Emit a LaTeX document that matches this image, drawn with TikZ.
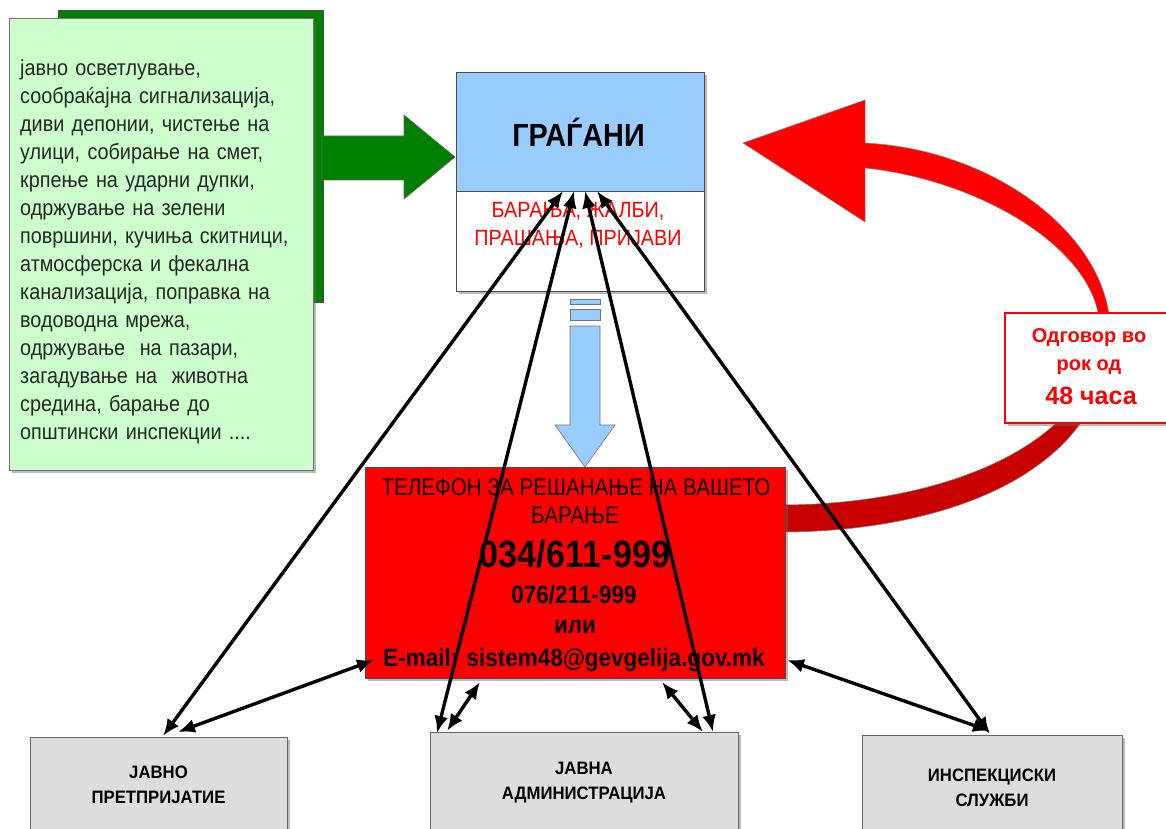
\documentclass[tikz,border=0pt]{standalone}
\usepackage{fontspec}
\setmainfont{Liberation Sans}
\newfontfamily\fgreen[FakeStretch=0.9]{Liberation Sans}
\newfontfamily\fnine[FakeStretch=0.9]{Liberation Sans}
\newfontfamily\feight[FakeStretch=0.86]{Liberation Sans}
\newfontfamily\fsmall[FakeStretch=0.93]{Liberation Sans}
\usetikzlibrary{arrows.meta,shadows}
\definecolor{dkgreen}{RGB}{0,128,0}
\definecolor{ltgreen}{RGB}{204,255,204}
\definecolor{ltblue}{RGB}{153,204,255}
\definecolor{myred}{RGB}{255,0,0}
\definecolor{dkred}{RGB}{200,0,0}
\definecolor{ltgray}{RGB}{221,221,221}
\begin{document}
\begin{tikzpicture}[x=1pt,y=-1pt,
  box/.style={draw=black!70, line width=0.8pt, inner sep=0pt, outer sep=0pt},
  shad/.style={drop shadow={shadow xshift=3pt, shadow yshift=-3pt, opacity=0.45, fill=black!60}},
  link/.style={line width=3.4pt, {Latex[length=17pt,width=14pt]}-{Latex[length=17pt,width=14pt]}},
  lbl/.style={inner sep=0pt, anchor=base},
]
\useasboundingbox (0,0) rectangle (1166,829);
\fill[white] (0,0) rectangle (1166,829);
\clip (0,0) rectangle (1166,829);

% green back panel and arrow
\node[box, fill=dkgreen, minimum width=265pt, minimum height=292pt, anchor=north west] (gback) at (58,10) {};
\draw[fill=dkgreen, draw=black!60, line width=0.6pt] (322,136) -- (404,136) -- (404,115) -- (455,157) -- (404,199) -- (404,180) -- (322,180) -- cycle;

% light green list box
\node[box, fill=ltgreen, draw=black!55, shad, minimum width=304pt, minimum height=452pt, anchor=north west] (gbox) at (9,18) {};
\node[inner sep=0pt, anchor=north west, text width=295pt, align=left, text=black!85,
  font={\fgreen\fontsize{22}{28}\selectfont}] (gtext) at (20,55.4) {\strut јавно осветлување,\\
сообраќајна сигнализација,\\
диви депонии, чистење на\\
улици, собирање на смет,\\
крпење на ударни дупки,\\
одржување на зелени\\
површини, кучиња скитници,\\
атмосферска и фекална\\
канализација, поправка на\\
водоводна мрежа,\\
одржување \ на пазари,\\
загадување на \ животна\\
средина, барање до\\
општински инспекции ....};

% citizens box
\node[box, fill=ltblue, shad, minimum width=248pt, minimum height=119pt, anchor=north west] (grad) at (456,72) {};
\node[lbl, font={\fnine\bfseries\fontsize{32}{32}\selectfont}] (gradt) at (578.5,147) {ГРАЃАНИ};
\node[box, fill=white, shad, minimum width=248pt, minimum height=100pt, anchor=north west] (req) at (456,191) {};
\node[lbl, text=myred, font={\fnine\fontsize{22}{22}\selectfont}] (req1) at (578,217) {БАРАЊА, ЖАЛБИ,};
\node[lbl, text=myred, font={\fnine\fontsize{22}{22}\selectfont}] (req2) at (578,245) {ПРАШАЊА, ПРИЈАВИ};

% blue down arrow
\begin{scope}[fill=ltblue, draw=black!55, line width=0.6pt]
\filldraw (570,299) rectangle (600,304);
\filldraw (570,309) rectangle (600,320);
\filldraw (570,326) -- (600,326) -- (600,425) -- (615,425) -- (585,467) -- (555,425) -- (570,425) -- cycle;
\end{scope}

% red curved arrow
\path[save path=\redarc] (780,532) .. controls (950,532) and (1110,470) .. (1110,330)
   .. controls (1110,240) and (1000,150) .. (865,143)
   -- (865,100) -- (743,143) -- (865,222) -- (865,168)
   .. controls (980,180) and (1100,250) .. (1100,330)
   .. controls (1100,440) and (950,505) .. (780,505) -- cycle;
\fill[black!50, opacity=0.5, shift={(2.5,2.5)}, use path=\redarc];
\fill[myred, use path=\redarc];
\begin{scope}
\clip (700,380) rectangle (1166,560);
\fill[dkred, use path=\redarc];
\end{scope}
\draw[black!45, line width=0.5pt, use path=\redarc];

% response label
\node[box, draw=myred, line width=1.2pt, fill=white, shad, minimum width=180pt, minimum height=110pt, anchor=north west] (resp) at (1005,313) {};
\node[lbl, text=myred, font={\bfseries\fontsize{20}{20}\selectfont}] (resp1) at (1089,342.5) {Одговор во};
\node[lbl, text=myred, font={\bfseries\fontsize{20}{20}\selectfont}] (resp2) at (1089,370) {рок од};
\node[lbl, text=myred, font={\bfseries\fontsize{25}{25}\selectfont}] (resp3) at (1091,404) {48 часа};

% phone box
\node[box, fill=myred, shad, minimum width=420pt, minimum height=211pt, anchor=north west] (phone) at (365,467) {};
\node[lbl, font={\feight\fontsize{24}{24}\selectfont}] (ph1) at (576,495) {ТЕЛЕФОН ЗА РЕШАНАЊЕ НА ВАШЕТО};
\node[lbl, font={\feight\fontsize{24}{24}\selectfont}] (ph2) at (575,523) {БАРАЊЕ};
\node[lbl, font={\fnine\bfseries\fontsize{38}{38}\selectfont}] (ph3) at (575,567) {034/611-999};
\node[lbl, font={\fnine\bfseries\fontsize{25}{25}\selectfont}] (ph4) at (574,603) {076/211-999};
\node[lbl, font={\fnine\bfseries\fontsize{25}{25}\selectfont}] (ph5) at (575,633) {или};
\node[lbl, font={\fnine\bfseries\fontsize{25}{25}\selectfont}] (ph6) at (574,666) {E-mail: sistem48@gevgelija.gov.mk};

% bottom boxes
\tikzset{bottom/.style={box, fill=ltgray, draw=black!60, shad, align=center,
  font={\fsmall\bfseries\fontsize{18}{25}\selectfont}}}
\node[bottom, minimum width=257pt, minimum height=96pt] (b1) at (158.5,785) {ЈАВНО\\ПРЕТПРИЈАТИЕ};
\node[bottom, minimum width=308pt, minimum height=101pt] (b2) at (584,782.5) {ЈАВНА\\АДМИНИСТРАЦИЈА};
\node[bottom, minimum width=260pt, minimum height=105pt] (b3) at (992,787.5) {ИНСПЕКЦИСКИ\\СЛУЖБИ};

% connector end points
\coordinate (g1) at (563,191);
\coordinate (g2) at (574,191);
\coordinate (g3) at (585,191);
\coordinate (g4) at (597,191);
\coordinate (p1) at (163,736);
\coordinate (p2) at (437,733);
\coordinate (p3) at (713,732);
\coordinate (p4) at (990,734);
\coordinate (q1a) at (374,660);
\coordinate (q1b) at (178,732);
\coordinate (q2a) at (480,682);
\coordinate (q2b) at (447,731);
\coordinate (q3a) at (662,682);
\coordinate (q3b) at (703,732);
\coordinate (q4a) at (787,660);
\coordinate (q4b) at (990,731);

\draw[link] (g1) -- (p1);
\draw[link] (g2) -- (p2);
\draw[link] (g3) -- (p3);
\draw[link] (g4) -- (p4);
\draw[link] (q1a) -- (q1b);
\draw[link] (q2a) -- (q2b);
\draw[link] (q3a) -- (q3b);
\draw[link] (q4a) -- (q4b);
\end{tikzpicture}
\end{document}
